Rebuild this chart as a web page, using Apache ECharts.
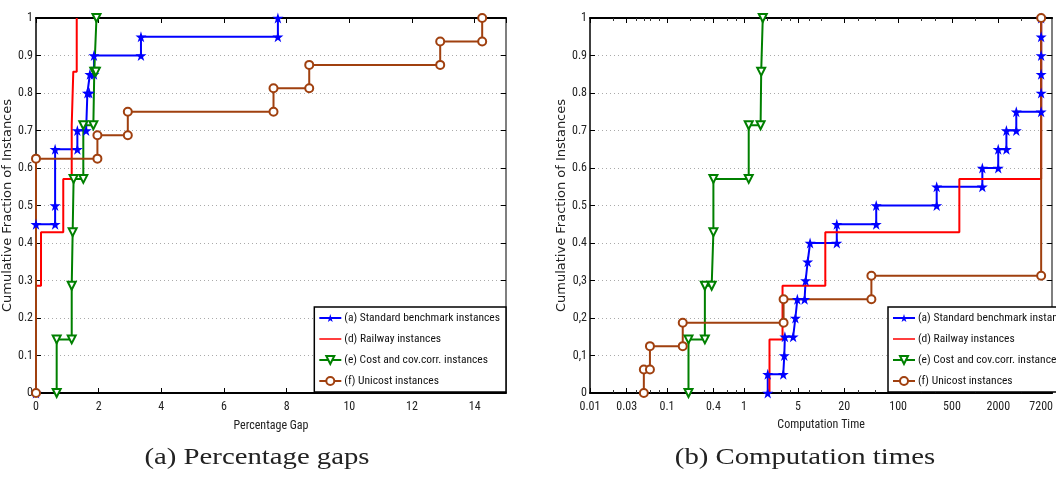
<!DOCTYPE html>
<html>
<head>
<meta charset="utf-8">
<script src="https://cdn.jsdelivr.net/npm/echarts@6/dist/echarts.min.js"></script>
<style>
  html, body { margin: 0; padding: 0; background: #fff; }
  #main { width: 1056px; height: 479px; }
</style>
</head>
<body>
<div id="main"></div>
<script>
// series names (same four groups on both panels)
var names = ['(a) Standard benchmark instances', '(d) Railway instances',
             '(e) Cost and cov.corr. instances', '(f) Unicost instances'];

// (a) percentage gaps - stair corners
var gapStdX  = [0, 0, 0.61, 0.61, 0.61, 1.32, 1.32, 1.6, 1.64, 1.7, 1.72, 1.85, 1.85, 3.35, 3.35, 7.72, 7.72];
var gapStdY  = [0, 0.45, 0.45, 0.5, 0.65, 0.65, 0.7, 0.7, 0.8, 0.8, 0.85, 0.85, 0.9, 0.9, 0.95, 0.95, 1];
var gapRailX = [0, 0, 0.16, 0.16, 0.87, 0.87, 1.14, 1.14, 1.19, 1.19, 1.3, 1.3];
var gapRailY = [0, 0.286, 0.286, 0.429, 0.429, 0.571, 0.571, 0.714, 0.714, 0.857, 0.857, 1];
var gapCostX = [0.66, 0.66, 1.14, 1.14, 1.17, 1.2, 1.51, 1.51, 1.83, 1.86, 1.91, 1.93];
var gapCostY = [0, 0.143, 0.143, 0.286, 0.429, 0.571, 0.571, 0.714, 0.714, 0.857, 0.857, 1];
var gapUniX  = [0, 0, 1.96, 1.96, 2.93, 2.93, 7.58, 7.58, 8.72, 8.72, 12.9, 12.9, 14.24, 14.24];
var gapUniY  = [0, 0.625, 0.625, 0.6875, 0.6875, 0.75, 0.75, 0.8125, 0.8125, 0.875, 0.875, 0.9375, 0.9375, 1];

// (b) computation times (seconds, log axis)
var timeStdX  = [2.03, 2.03, 3.23, 3.33, 3.39, 4.34, 4.64, 4.92, 6.11, 6.3, 6.7, 7.2, 16, 16, 52, 52, 317, 317,
                 1241, 1241, 1995, 1995, 2548, 2548, 3424, 3424, 7200, 7200, 7200, 7200, 7200, 7200];
var timeStdY  = [0, 0.05, 0.05, 0.1, 0.15, 0.15, 0.2, 0.25, 0.25, 0.3, 0.35, 0.4, 0.4, 0.45, 0.45, 0.5, 0.5, 0.55,
                 0.55, 0.6, 0.6, 0.65, 0.65, 0.7, 0.7, 0.75, 0.75, 0.8, 0.85, 0.9, 0.95, 1];
var timeRailX = [2.14, 2.14, 3.16, 3.16, 11.35, 11.35, 624, 624, 7200, 7200];
var timeRailY = [0, 0.143, 0.143, 0.286, 0.286, 0.429, 0.429, 0.571, 0.571, 1];
var timeCostX = [0.19, 0.19, 0.31, 0.31, 0.38, 0.40, 0.40, 1.15, 1.15, 1.64, 1.67, 1.75];
var timeCostY = [0, 0.143, 0.143, 0.286, 0.286, 0.429, 0.571, 0.571, 0.714, 0.714, 0.857, 1];
var timeUniX  = [0.05, 0.05, 0.06, 0.06, 0.16, 0.16, 3.26, 3.26, 45, 45, 7200, 7200];
var timeUniY  = [0, 0.0625, 0.0625, 0.125, 0.125, 0.1875, 0.1875, 0.25, 0.25, 0.3125, 0.3125, 1];

// tick labels
var gapXTicks = [0, 2, 4, 6, 8, 10, 12, 14];
var timeXTicks = [0.01, 0.03, 0.1, 0.4, 1, 5, 20, 100, 500, 2000, 7200];
var timeXLabels = ['0.01', '0.03', '0.1', '0.4', '1', '5', '20', '100', '500', '2000', '7200'];
var timeMinorTicks = [0.02, 0.04, 0.05, 0.06, 0.08, 0.2, 0.3, 0.6, 0.8, 2, 3, 4, 7, 10, 30, 50, 200, 300,
                      1000, 4000];
var gapYLabels = ['0', '0.1', '0.2', '0.3', '0.4', '0.5', '0.6', '0.7', '0.8', '0.9', '1'];
var timeYLabels = ['0', '0,1', '0,2', '0,3', '0.4', '0.5', '0.6', '0.7', '0.8', '0.9', '1'];

var colors = ['#0000ff', '#ff0000', '#008000', '#a0400f'];
var starPath = 'path://M50,0 L61,35 L98,35 L68,57 L79,91 L50,70 L21,91 L32,57 L2,35 L39,35 Z';
var lineIcon = 'path://M0,0 L0.01,0 L0.01,0.01 Z M0,4.2 L22,4.2 L22,5.8 L0,5.8 Z M0,9.99 L0.01,9.99 L0.01,10 Z';
var symbols = [starPath, 'none', 'emptyTriangle', 'emptyCircle'];
var narrow = "'Roboto Condensed', 'Liberation Sans Narrow', 'DejaVu Sans Condensed', sans-serif";

function pairs(xs, ys, tf) {
  return xs.map(function (x, i) { return [tf ? Math.log10(x) : x, ys[i]]; });
}

function mkSeries(idx, xi, yi, xs, ys, tf) {
  return {
    name: names[idx],
    type: 'line',
    xAxisIndex: xi,
    yAxisIndex: yi,
    data: pairs(xs, ys, tf),
    symbol: symbols[idx],
    symbolSize: idx === 0 ? 11 : 8,
    symbolRotate: idx === 2 ? 180 : 0,
    showSymbol: idx !== 1,
    lineStyle: { color: colors[idx], width: 2 },
    itemStyle: { color: colors[idx], borderWidth: 1.5 },
    emphasis: { disabled: true },
    animation: false
  };
}

function yAxes(gi, labels) {
  return [{
    type: 'value', gridIndex: gi, min: 0, max: 1, interval: 0.1,
    name: 'Cumulative Fraction of Instances', nameLocation: 'middle', nameGap: 15,
    nameTextStyle: { fontSize: 13, color: '#222', fontFamily: 'DejaVu Sans, sans-serif' },
    axisLine: { show: true, onZero: false, lineStyle: { color: '#000', width: 1.5 } },
    axisTick: { show: true, inside: true, length: 5, lineStyle: { color: '#000' } },
    axisLabel: { fontSize: 12, color: '#222', margin: 3, fontFamily: narrow,
      formatter: function (v) { return labels[Math.round(v * 10)]; } },
    splitLine: { show: true, lineStyle: { color: '#aaa', type: [1, 3], width: 1 } }
  }, {
    type: 'value', gridIndex: gi, min: 0, max: 1, interval: 0.1, position: 'right',
    axisLine: { show: true, onZero: false, lineStyle: { color: '#555', width: 1.5 } },
    axisTick: { show: true, inside: true, length: 5, lineStyle: { color: '#000' } },
    axisLabel: { show: false }, splitLine: { show: false }
  }];
}

function legendFor(pos) {
  var base = {
    top: 307, orient: 'vertical',
    data: [{ name: names[0] }, { name: names[1], icon: lineIcon }, { name: names[2] }, { name: names[3] }],
    backgroundColor: '#fff', borderColor: '#000', borderWidth: 1.5,
    padding: [5, 6, 5, 4], itemGap: 9, itemWidth: 22, itemHeight: 10,
    textStyle: { fontSize: 11.5, color: '#111', fontFamily: narrow, padding: [0, 0, 0, -2] },
    selectedMode: false
  };
  return Object.assign(base, pos);
}

var myChart = echarts.init(document.getElementById('main'));

var timeTickLog = timeXTicks.map(function (t) { return Math.log10(t); });
var timeMinorLog = timeMinorTicks.map(function (t) { return Math.log10(t); });

function timeAxis(pos, withLabels) {
  return {
    type: 'value', gridIndex: 1, min: -2, max: 4, position: pos,
    name: withLabels ? 'Computation Time' : '', nameLocation: 'middle', nameGap: 26,
    nameTextStyle: { fontSize: 12, color: '#222', fontFamily: narrow },
    axisLine: { onZero: false, lineStyle: { color: '#000', width: 2 } },
    axisTick: { inside: true, length: 5, lineStyle: { color: '#000' }, customValues: timeTickLog },
    axisLabel: { show: withLabels, fontSize: 12, color: '#222', margin: 8, fontFamily: narrow,
      customValues: timeTickLog,
      formatter: function (v) {
        for (var i = 0; i < timeTickLog.length; i++) {
          if (Math.abs(timeTickLog[i] - v) < 1e-6) return timeXLabels[i];
        }
        return '';
      } },
    splitLine: { show: false }
  };
}

function minorAxis(pos) {
  return {
    type: 'value', gridIndex: 1, min: -2, max: 4, position: pos,
    axisLine: { show: false, onZero: false },
    axisTick: { inside: true, length: 3, lineStyle: { color: '#333' }, customValues: timeMinorLog },
    axisLabel: { show: false }, splitLine: { show: false }
  };
}

myChart.setOption({
  backgroundColor: '#fff',
  grid: [
    { left: 36, top: 18, right: 550, bottom: 86 },
    { left: 590, top: 18, right: -2, bottom: 86 }
  ],
  xAxis: [{
    type: 'value', gridIndex: 0, min: 0, max: 15, interval: 2,
    name: 'Percentage Gap', nameLocation: 'middle', nameGap: 27,
    nameTextStyle: { fontSize: 12, color: '#222', fontFamily: narrow },
    axisLine: { onZero: false, lineStyle: { color: '#000', width: 2 } },
    axisTick: { inside: true, length: 5, lineStyle: { color: '#000' } },
    axisLabel: { fontSize: 12, color: '#222', margin: 8, fontFamily: narrow, showMaxLabel: false,
      formatter: function (v) { return gapXTicks.indexOf(v) >= 0 ? String(v) : ''; } },
    splitLine: { show: false }
  }, {
    type: 'value', gridIndex: 0, min: 0, max: 15, interval: 2, position: 'top',
    axisLine: { onZero: false, lineStyle: { color: '#000', width: 2 } },
    axisTick: { inside: true, length: 5, lineStyle: { color: '#000' } },
    axisLabel: { show: false }, splitLine: { show: false }
  },
    timeAxis('bottom', true),
    timeAxis('top', false),
    minorAxis('bottom'),
    minorAxis('top')
  ],
  yAxis: yAxes(0, gapYLabels).concat(yAxes(1, timeYLabels)),
  legend: [legendFor({ right: 550 }), legendFor({ left: 888 })],
  graphic: [
    { type: 'text', x: 257, y: 458, scaleX: 1.25, style: { text: '(a) Percentage gaps', textAlign: 'center',
        textVerticalAlign: 'middle', font: '23px "Liberation Serif", serif', fill: '#222' } },
    { type: 'text', x: 805, y: 458, scaleX: 1.25, style: { text: '(b) Computation times', textAlign: 'center',
        textVerticalAlign: 'middle', font: '23px "Liberation Serif", serif', fill: '#222' } }
  ],
  series: [
    mkSeries(0, 0, 0, gapStdX, gapStdY, false),
    mkSeries(1, 0, 0, gapRailX, gapRailY, false),
    mkSeries(2, 0, 0, gapCostX, gapCostY, false),
    mkSeries(3, 0, 0, gapUniX, gapUniY, false),
    mkSeries(0, 2, 2, timeStdX, timeStdY, true),
    mkSeries(1, 2, 2, timeRailX, timeRailY, true),
    mkSeries(2, 2, 2, timeCostX, timeCostY, true),
    mkSeries(3, 2, 2, timeUniX, timeUniY, true)
  ]
});
</script>
</body>
</html>
